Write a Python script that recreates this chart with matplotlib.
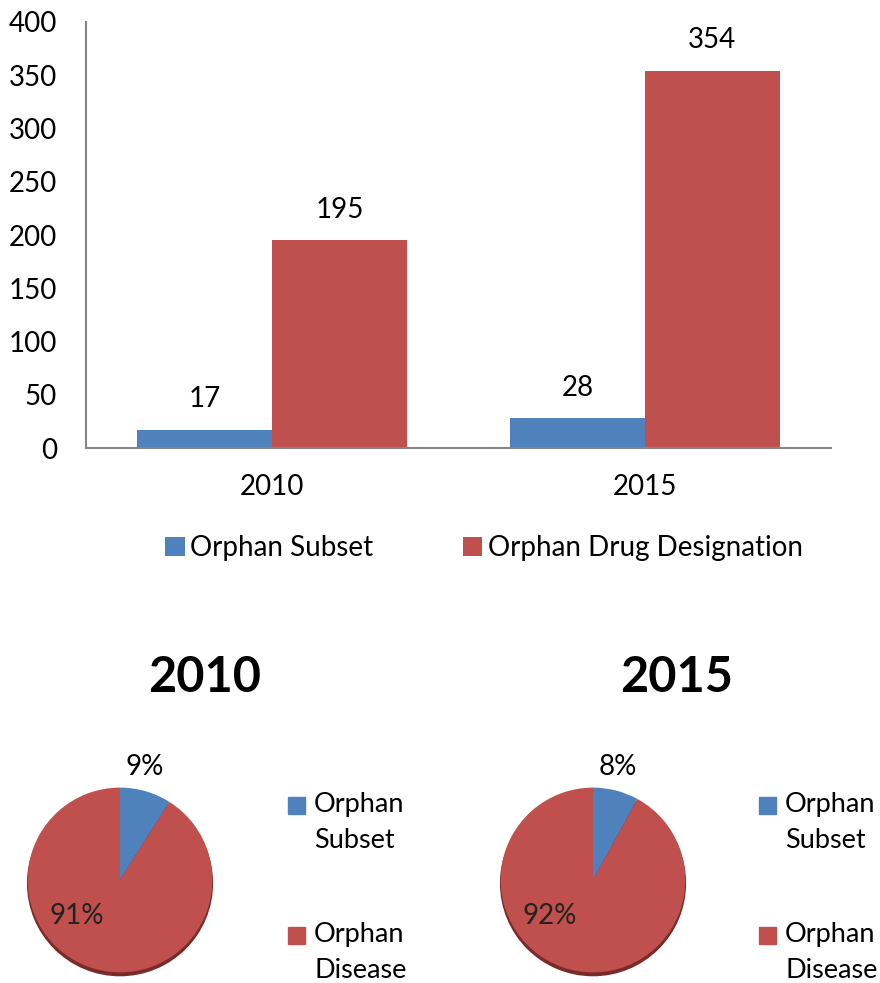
import numpy as np
import matplotlib.pyplot as plt
from matplotlib.patches import Rectangle, Circle

plt.rcParams['font.family'] = ['Lato', 'DejaVu Sans']

years = ['2010', '2015']
subset = [17, 28]
designation = [195, 354]
series_names = ['Orphan Subset', 'Orphan Drug Designation']
pie_labels = ['Orphan\nSubset', 'Orphan\nDisease']
pie_pcts = {'2010': [9, 91], '2015': [8, 92]}

BLUE = '#4F81BD'
RED = '#C0504D'
DARKRED = '#7A2A28'
W, H = 880, 983

def fx(px):
	return px / W

def fy(py):
	return 1 - py / H

fig = plt.figure(figsize=(W / 100, H / 100), dpi=100)

# bar chart
ax = fig.add_axes([fx(86), fy(448), fx(831) - fx(86), fy(22) - fy(448)])
x = np.arange(len(years))
bw = 0.362
b1 = ax.bar(x - bw / 2, subset, bw, color=BLUE, label=series_names[0])
b2 = ax.bar(x + bw / 2, designation, bw, color=RED, label=series_names[1])
for bars in (b1, b2):
	for b in bars:
		ax.annotate(str(int(b.get_height())), (b.get_x() + b.get_width() / 2, b.get_height()),
			xytext=(0, 22), textcoords='offset points', ha='center', va='center', fontsize=20)
ax.set_xlim(-0.5, 1.5)
ax.set_ylim(0, 400)
ax.set_yticks(range(0, 401, 50))
ax.set_xticks(x)
ax.set_xticklabels(years)
for s in ('top', 'right'):
	ax.spines[s].set_visible(False)
for s in ('left', 'bottom'):
	ax.spines[s].set_color('#868686')
	ax.spines[s].set_linewidth(1.5)
ax.tick_params(axis='both', length=0, labelsize=20)
ax.tick_params(axis='y', pad=21)
ax.tick_params(axis='x', pad=19)

fig.legend(handles=[b1, b2], loc='center', bbox_to_anchor=(fx(484), fy(548)), ncol=2,
	frameon=False, fontsize=20, handlelength=0.7, handleheight=0.7, handletextpad=0.2,
	columnspacing=3.2, borderpad=0)

# pies
pie_cx = {'2010': 120, '2015': 593}
title_cx = {'2010': 205, '2015': 677}
leg_x = {'2010': 288, '2015': 759}
R = 97
for yr in years:
	cx = pie_cx[yr]
	pax = fig.add_axes([fx(cx - R), fy(880 + R), fx(2 * R), (2 * R) / H])
	pax.add_patch(Circle((0, -0.035), 1.0, color=DARKRED, zorder=0))
	vals = pie_pcts[yr]
	pax.pie(vals, colors=[BLUE, RED], startangle=90, counterclock=False, radius=1.0)
	pax.set_xlim(-1.05, 1.05)
	pax.set_ylim(-1.05, 1.05)
	pax.set_aspect('equal')
	pax.axis('off')
	pax.text(0.27, 1.22, '%d%%' % vals[0], ha='center', va='center', fontsize=20, clip_on=False)
	pax.text(-0.47, -0.39, '%d%%' % vals[1], ha='center', va='center', fontsize=20, color='#222222')
	fig.text(fx(title_cx[yr]), fy(677), yr, ha='center', va='center', fontsize=35, fontweight='bold')
	lx = leg_x[yr]
	for i, (lab, col, sq_y) in enumerate(zip(pie_labels, [BLUE, RED], [806, 936])):
		fig.add_artist(Rectangle((fx(lx), fy(sq_y + 8)), fx(17), 17 / H, color=col, transform=fig.transFigure))
		fig.text(fx(lx + 26), fy(sq_y - 14), lab, ha='left', va='top', fontsize=19.5, linespacing=1.55)

fig.savefig('out.png', dpi=100)
